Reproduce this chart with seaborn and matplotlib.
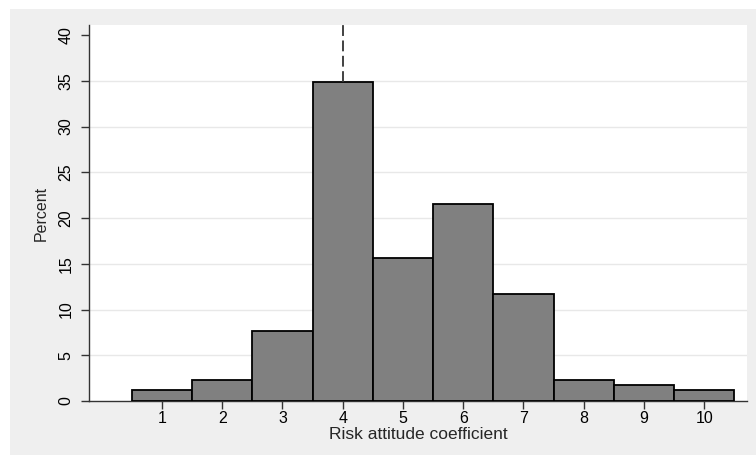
import matplotlib
matplotlib.use("Agg")
import matplotlib.pyplot as plt
import seaborn as sns
import pandas as pd
from matplotlib.patches import Rectangle

# percent of respondents per risk attitude coefficient
coefficients = [1, 2, 3, 4, 5, 6, 7, 8, 9, 10]
percents = [1.2, 2.35, 7.6, 34.9, 15.65, 21.55, 11.65, 2.35, 1.75, 1.15]
y_ticks = [0, 5, 10, 15, 20, 25, 30, 35, 40]
marker_value = 4

df = pd.DataFrame({"coef": coefficients, "pct": percents})

sns.set_theme(style="white")
plt.rcParams["font.family"] = ["Liberation Sans", "DejaVu Sans"]

W, H = 756, 457
fig = plt.figure(figsize=(W / 100, H / 100), dpi=100, facecolor="white")
fig.patches.append(Rectangle((10 / W, 2 / H), 1 - 10 / W, (455 - 9) / H,
                             transform=fig.transFigure, facecolor="#efefef",
                             edgecolor="none", zorder=-10))
ax = fig.add_axes([89 / W, (H - 401) / H, (747 - 89) / W, (401 - 25) / H])
ax.set_zorder(1)
ax.set_facecolor("white")

sns.histplot(data=df, x="coef", weights="pct", discrete=True, ax=ax,
             color="#808080", edgecolor="black", linewidth=1.3, alpha=1,
             zorder=3)

ax.set_xlim(-0.21, 10.71)
ax.set_ylim(0, 41.1)
ax.set_yticks(y_ticks)
ax.set_yticklabels([str(t) for t in y_ticks], rotation=90, va="center")
ax.set_xticks(coefficients)

for t in y_ticks[1:-1]:
    ax.axhline(t, color="#e8e8e8", linewidth=1, zorder=1)

top_val = percents[coefficients.index(marker_value)]
ax.plot([marker_value, marker_value], [top_val, 41.1], color="#333333",
        linestyle=(0, (6, 2.5)), linewidth=1.3, zorder=4, clip_on=False)

ax.tick_params(axis="both", direction="out", length=6, width=1,
               color="#333333", labelcolor="black",
               bottom=True, left=True)
ax.tick_params(axis="x", labelsize=11.5, pad=1.5)
ax.tick_params(axis="y", labelsize=11.5, pad=5)
for side in ["top", "right"]:
    ax.spines[side].set_visible(False)
for side in ["left", "bottom"]:
    ax.spines[side].set_color("#333333")
    ax.spines[side].set_linewidth(1)

ax.set_xlabel("Risk attitude coefficient", fontsize=12.5, va="baseline")
ax.set_ylabel("Percent", fontsize=11.5, va="center")
ax.xaxis.set_label_coords(0.5, (401 - 439) / 376)
ax.yaxis.set_label_coords((41 - 89) / 658, 0.5)

fig.savefig("out.png", dpi=100)
